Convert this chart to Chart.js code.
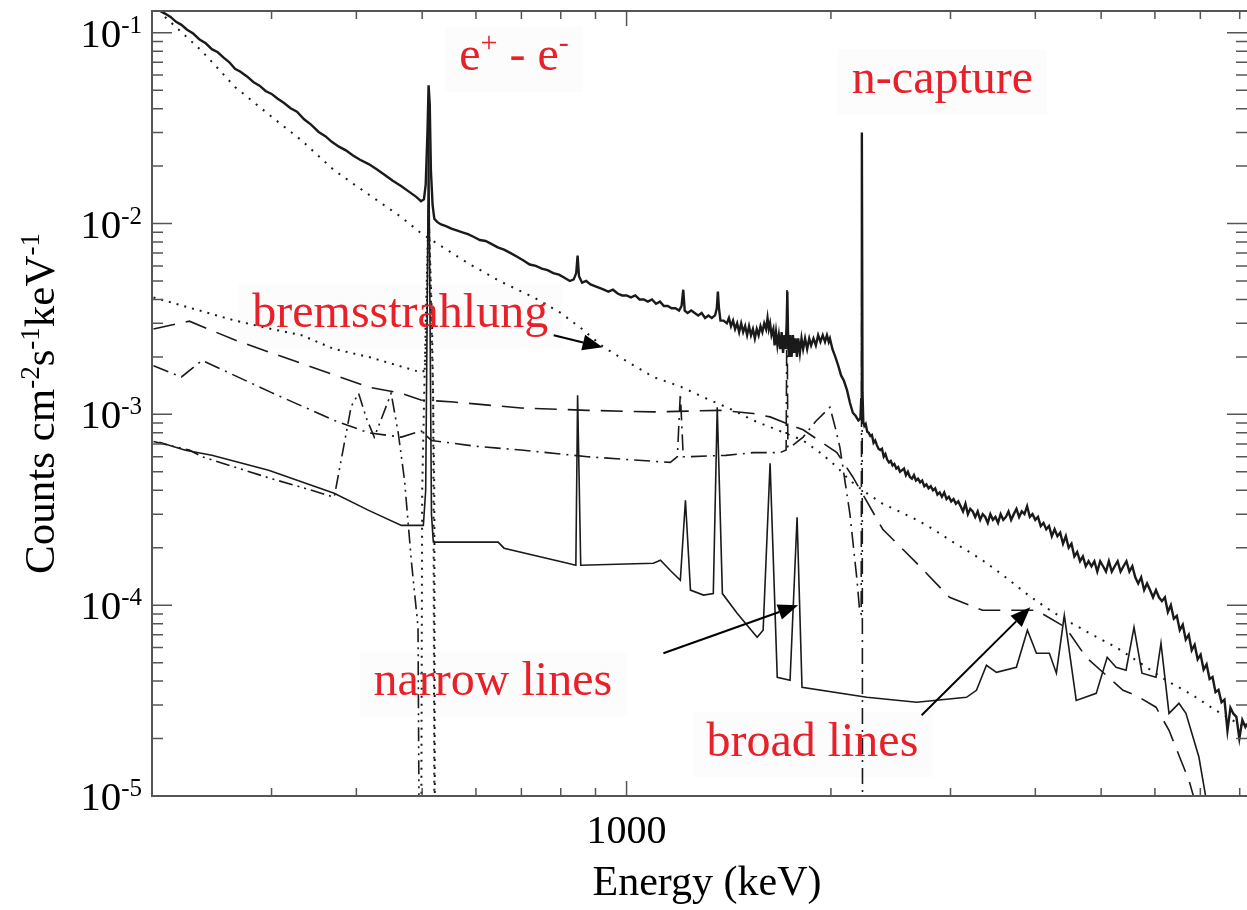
<!DOCTYPE html>
<html>
<head>
<meta charset="utf-8">
<script src="https://cdn.jsdelivr.net/npm/chart.js@4.4.1/dist/chart.umd.min.js"></script>
<style>
  html, body { margin: 0; padding: 0; background: #fff; }
  #wrap { width: 1247px; height: 910px; position: relative; }
</style>
</head>
<body>
<div id="wrap"><canvas id="spec"></canvas></div>
<script>
  // Measured total spectrum (thick noisy line)
  const totalEnergy = [205,209,213,217,221,225,230,235,240,245,250,255,260,265,270,276,282,288,294,300,306,313,320,327,335,343,352,360,368,377,386,395,405,417,428,440,452,466,478,490,498,503,506,509,511,513,515,518,521,526,533,542,552,562,573,584,596,608,620,633,646,660,675,690,705,720,735,750,765,780,795,810,825,836,843,847,851,860,872,885,898,912,926,940,955,970,985,1000,1015,1030,1045,1060,1075,1090,1105,1120,1135,1150,1165,1180,1195,1205,1212,1218,1230,1245,1260,1275,1290,1305,1320,1335,1350,1358,1363,1368,1375,1390,
    1405,1415,1425,1435,1445,1455,1465,1475,1485,1495,1505,1515,1525,1535,1545,1555,1565,1575,1585,1595,1605,1613,1620,1627,1635,1645,1652,1660,1668,1676,1684,1692,1700,1708,1715,1721,1725,1729,1735,1742,1750,1758,1766,1774,1782,1790,1800,1810,1820,1832,1845,1858,1870,1885,1900,1915,1930,1945,1960,1973,1985,1993,2010,2030,2050,2070,2090,2112,2133,2154,2175,2195,2210,2216,2221,2226,
    2232,2240,2250,2262,2274,2286,2298,2311,2324,2337,2350,2364,2378,2392,2406,2420,2435,2450,2465,2480,2496,2512,2528,2545,2562,2579,2596,2614,2632,2650,2668,2687,2706,2725,2745,2765,2785,2806,2827,2848,2870,2892,2914,2937,2960,2983,3007,3031,3055,3080,3105,3130,3156,3182,3208,3235,3262,3290,3318,3346,3375,3404,3434,3464,3494,3525,3556,3588,3620,3652,3685,3718,3752,3786,3820,3855,3890,3926,3962,3999,4036,4074,4112,4151,4190,4230,4270,4311,4352,4394,4436,4479,4522,4566,4610,4655,4700,4746,4792,4839,4887,4935,4984,5033,5083,5133,5184,5236,5288,5341,5394,5448,5503,5558,5614,5670,5727,5785,5843,5902,5962,6022,6083,6145,6207,6270,6334,6398,6463,6529,6595,6662,6730,6798,6867,6937,7007,7078,7150,7223,7296,7370,7445,7521,7597,7674,7752,7831,7910,7990,8071,8153,8200];
  const totalCounts = [.131,.126,.121,.114,.110,.104,.099,.092,.088,.082,.079,.074,.070,.0648,.0625,.0590,.0552,.0528,.0495,.0478,.0452,.0428,.0402,.0386,.0352,.0330,.0302,.0287,.0268,.0253,.0242,.0228,.0216,.0205,.0193,.0180,.0168,.0157,.0147,.0138,.0131,.0134,.0160,.0300,.0530,.0420,.0190,.0125,.0106,.0102,.0099,.0097,.0094,.0092,.0090,.0088,.0085,.0082,.0081,.0078,.0075,.0073,.0070,.0067,.0064,.0061,.0060,.0058,.0057,.0055,.0054,.0052,.0050,.0051,.0055,.0068,.0053,.0049,.0050,.0048,.0047,.0046,.0045,.0044,.0045,.0043,.0042,.0042,.0041,.0042,.0040,.0040,.0039,.0040,.0038,.0039,.0037,.0037,.0036,.0036,.0035,.0037,.0045,.0035,.0034,.0035,.0034,.0033,.0034,.0032,.0033,.0032,.0033,.0036,.0044,.0036,.0031,.0031,
    .0030,.0032,.0029,.0031,.0028,.0030,.0027,.0030,.0027,.0029,.0026,.0029,.0026,.0028,.0025,.0028,.0026,.0029,.0027,.0030,.0028,.0032,.0028,.0030,.0026,.0028,.0023,.0027,.0023,.0026,.0022,.0027,.0021,.0026,.0022,.0030,.0044,.0027,.0020,.0026,.0020,.0026,.0021,.0025,.0020,.0025,.0021,.0025,.0022,.0025,.0022,.0025,.0023,.0025,.0023,.0026,.0024,.0026,.0024,.0026,.0024,.0025,.0022,.0020,.0018,.0016,.0015,.00134,.00115,.00102,.00098,.00093,.00095,.0012,.030,.0013,
    .00091,.00087,.00089,.00081,.00080,.00077,.00078,.00071,.00073,.00069,.00066,.00065,.00066,.00060,.00062,.00058,.00056,.00057,.00054,.00055,.00052,.00053,.00050,.00051,.00052,.00048,.00050,.00047,.00046,.00048,.00045,.00046,.00044,.00045,.00042,.00043,.00041,.00042,.00040,.00041,.00038,.00039,.00037,.00039,.00036,.00037,.00035,.00036,.00034,.00035,.00033,.00031,.00034,.00030,.00032,.00031,.00029,.00031,.00028,.00030,.00029,.00027,.00030,.00028,.00029,.00027,.00030,.00028,.00029,.00031,.00028,.00030,.00032,.00029,.00031,.00030,.00033,.00029,.00030,.00028,.00029,.00026,.00027,.00025,.00026,.00023,.00025,.00023,.00024,.00021,.00023,.00020,.00021,.00018,.00019,.00017,.00018,.00016,.00017,.00016,.00017,.00015,.00017,.00016,.00015,.00017,.00015,.00016,.00017,.00015,.00016,.00017,.00015,.00016,.00014,.00013,.00014,.00012,.00013,.00012,.00011,.00012,.00011,.000105,.00011,.000092,.0001,.000085,.000088,.000074,.000079,.000066,.00007,.000058,.000062,.000052,.000055,.000046,.000049,.000041,.000042,.000035,.000036,.000031,.000032,.000022,.000029,.000027,.000026,.000020,.000025,.000023,.000024];

  // Bremsstrahlung continuum (dotted)
  const bremEnergy = [209,237,265,298,332,371,417,466,498,540,584,650,730,800,860,925,1000,1095,1200,1298,1420,1537,1680,1820,1940,2041,2133,2250,2384,2520,2675,2830,2990,3160,3344,3600,3880,4150,4443,4850,5260,5700,6230,6800,7377,8200];
  const bremCounts = [.121,.080,.052,.037,.0273,.019,.0142,.0108,.0089,.0074,.0062,.0050,.0041,.0034,.0028,.00225,.0019,.00157,.0014,.00123,.00107,.00093,.00082,.00073,.00062,.00053,.00045,.00039,.00034,.00031,.00028,.00025,.00022,.000195,.000172,.000142,.000115,.000097,.0000834,.000070,.0000602,.000050,.0000404,.000034,.0000281,.0000225];

  // Positronium continuum up to 511 keV (dotted)
  const posEnergy = [201,235,265,300,332,371,417,466,498,505,508,511,515,519,523];
  const posCounts = [.0041,.0035,.0031,.0028,.0026,.0022,.0020,.00178,.00166,.0017,.0035,.0125,.004,.0012,1e-7];

  // 511 keV annihilation line (dotted)
  const annEnergy = [497,500,506,511,517,521,523];
  const annCounts = [1e-7,.0004,.003,.012,.003,.0004,1e-7];

  // Dashed component
  const dashEnergy = [201,227,265,332,417,466,498,557,699,876,1095,1374,1537,1627,1820,2041,2154,2384,2675,2990,3344,3751,4015,4430,4753,5386,5628,6022,6294,6553,6734,6895,7100];
  const dashCounts = [.0028,.00308,.00245,.00185,.00139,.00129,.00119,.00116,.00108,.00105,.00103,.00105,.00101,.00097,.00083,.00063,.00047,.00025,.000166,.00011,.000094,.000094,.000094,.0000766,.0000533,.0000358,.0000337,.0000292,.0000221,.0000154,.0000121,.0000090,.000004];

  // Dash-dot component (with 1200, 1723 and 2223 keV lines)
  const dashDotEnergy = [201,221,237,300,371,417,466,498,516,600,699,876,1000,1160,1188,1200,1212,1229,1400,1537,1683,1718,1723,1728,1741,1820,1900,1993,2030,2062,2133,2184,2206,2216,2222,2228];
  const dashDotCounts = [.0018,.00157,.00192,.0013,.00093,.0008,.00076,.00082,.00073,.00068,.00065,.0006,.00058,.00056,.0006,.00129,.0006,.0006,.00061,.00063,.00063,.00065,.0045,.00067,.00067,.00076,.00092,.00109,.00085,.00067,.0003,.000137,.000091,.00009,.03,1e-7];

  // Dash-dot-dot component below 511 keV
  const dash3Energy = [201,227,237,300,332,371,380,393,403,414,425,437,450,461,471,482,493,498];
  const dash3Counts = [.00072,.00065,.0006,.00046,.000415,.000368,.00058,.0011,.00129,.00095,.00076,.00098,.00129,.0008,.00045,.00017,.000077,1e-7];

  // Narrow + broad lines component (thin solid)
  const linesEnergy = [205,224,245,297,371,417,466,502,506,509,511,513,516,519,521,647,660,819,842,847,856,1095,1122,1160,1200,1221,1242,1298,1342,1360,1384,1455,1557,1589,1627,1667,1741,1783,1813,2259,2675,3167,3276,3389,3506,3751,3894,4015,4195,4296,4413,4595,4917,5104,5260,5441,5590,5743,6022,6125,6294,6510,6666,6966,7133,7250];
  const linesCounts = [.000714,.000648,.00061,.000509,.000386,.000314,.000262,.000262,.0004,.005,.035,.005,.0003,.000219,.000214,.000214,.000199,.000166,.000162,.00126,.000162,.000166,.000172,.000152,.000135,.000355,.00012,.000113,.000115,.00109,.000115,.0000907,.0000679,.0000739,.000554,.0000419,.0000404,.000289,.0000371,.0000329,.000031,.0000329,.0000358,.0000484,.0000445,.0000473,.0000739,.000056,.000056,.000044,.0000885,.0000317,.0000345,.0000533,.0000473,.0000456,.0000766,.000044,.0000419,.0000632,.0000271,.0000306,.0000271,.000016,.0000098,1e-7];

  // Axis ticks
  const yMajorTicks = [1e-1, 1e-2, 1e-3, 1e-4, 1e-5];
  const yTickExps = ['-1', '-2', '-3', '-4', '-5'];
  const yMinorFactors = [2, 3, 4, 5, 6, 7, 8, 9];
  const xMajorTicks = [1000];
  const xTickLabels = ['1000'];
  const xMinorTicks = [300, 400, 500, 600, 700, 800, 900, 2000, 3000, 4000, 5000, 6000, 7000, 8000];

  // Annotations (data coordinates)
  const notes = [
    { parts: [['e', 0], ['+', 1], [' - e', 0], ['-', 1]], x: 567, y: 0.0636 },
    { parts: [['n-capture', 0]], x: 2147, y: 0.0482 },
    { parts: [['bremsstrahlung', 0]], x: 281, y: 0.00286 },
    { parts: [['narrow lines', 0]], x: 424, y: 0.0000337 },
    { parts: [['broad lines', 0]], x: 1311, y: 0.0000163 }
  ];
  const arrows = [
    { from: [781, 0.0026], to: [922, 0.00225] },
    { from: [1133, 0.000056], to: [1789, 0.0000999] },
    { from: [2720, 0.0000265], to: [3933, 0.0000975] }
  ];

  const FONT = '"Liberation Serif", "Times New Roman", serif';
  const INK = '#1a1a1a';

  function pts(xs, ys) {
    return xs.map((x, i) => ({ x: x, y: ys[i] }));
  }

  function series(xs, ys, width, dash) {
    return {
      data: pts(xs, ys),
      showLine: true,
      borderColor: INK,
      borderWidth: width,
      borderDash: dash,
      pointRadius: 0,
      tension: 0
    };
  }

  // draw text made of normal / superscript parts starting at (x, y) baseline
  function drawParts(ctx, parts, x, y, size, supSize, raise) {
    let cx = x;
    parts.forEach(([t, sup]) => {
      ctx.font = (sup ? supSize : size) + 'px ' + FONT;
      ctx.fillText(t, cx, sup ? y - raise : y);
      cx += ctx.measureText(t).width;
    });
    return cx - x;
  }

  function partsWidth(ctx, parts, size, supSize) {
    let w = 0;
    parts.forEach(([t, sup]) => {
      ctx.font = (sup ? supSize : size) + 'px ' + FONT;
      w += ctx.measureText(t).width;
    });
    return w;
  }

  const axesPlugin = {
    id: 'axesPlugin',
    afterDatasetsDraw(chart) {
      const { ctx, chartArea: a, scales: { x, y } } = chart;
      ctx.save();

      // frame
      ctx.strokeStyle = '#555';
      ctx.lineWidth = 2;
      ctx.beginPath();
      ctx.moveTo(a.right, a.top);
      ctx.lineTo(a.left, a.top);
      ctx.lineTo(a.left, a.bottom);
      ctx.lineTo(a.right, a.bottom);
      ctx.stroke();

      // ticks (inward, on all sides)
      ctx.lineWidth = 1.5;
      ctx.beginPath();
      xMajorTicks.forEach(v => {
        const px = x.getPixelForValue(v);
        ctx.moveTo(px, a.bottom); ctx.lineTo(px, a.bottom - 15);
        ctx.moveTo(px, a.top); ctx.lineTo(px, a.top + 15);
      });
      xMinorTicks.forEach(v => {
        const px = x.getPixelForValue(v);
        ctx.moveTo(px, a.bottom); ctx.lineTo(px, a.bottom - 8);
        ctx.moveTo(px, a.top); ctx.lineTo(px, a.top + 8);
      });
      yMajorTicks.forEach(v => {
        const py = y.getPixelForValue(v);
        ctx.moveTo(a.left, py); ctx.lineTo(a.left + 20, py);
        ctx.moveTo(a.right, py); ctx.lineTo(a.right - 20, py);
        yMinorFactors.forEach(f => {
          const val = v * f;
          if (val > y.max) return;
          const pm = y.getPixelForValue(val);
          ctx.moveTo(a.left, pm); ctx.lineTo(a.left + 11, pm);
          ctx.moveTo(a.right, pm); ctx.lineTo(a.right - 11, pm);
        });
      });
      ctx.stroke();

      // tick labels
      ctx.fillStyle = '#000';
      ctx.textBaseline = 'alphabetic';
      ctx.textAlign = 'left';
      yMajorTicks.forEach((v, i) => {
        const py = y.getPixelForValue(v);
        const parts = [['10', 0], [yTickExps[i], 1]];
        const w = partsWidth(ctx, parts, 41, 25);
        drawParts(ctx, parts, 142 - w, py + 14, 41, 25, 14);
      });
      xMajorTicks.forEach((v, i) => {
        const px = x.getPixelForValue(v);
        ctx.font = '40px ' + FONT;
        ctx.textAlign = 'center';
        ctx.fillText(xTickLabels[i], px, 843);
      });

      // axis titles
      ctx.textAlign = 'left';
      ctx.font = '42px ' + FONT;
      const xt = 'Energy (keV)';
      ctx.fillText(xt, 707 - ctx.measureText(xt).width / 2, 895);

      const yt = [['Counts cm', 0], ['-2', 1], ['s', 0], ['-1', 1], ['keV', 0], ['-1', 1]];
      const ytw = partsWidth(ctx, yt, 43, 27);
      ctx.save();
      ctx.translate(54, (a.top + a.bottom) / 2);
      ctx.rotate(-Math.PI / 2);
      drawParts(ctx, yt, -ytw / 2, 0, 43, 27, 15);
      ctx.restore();

      // red annotation labels
      notes.forEach(n => {
        const px = x.getPixelForValue(n.x);
        const py = y.getPixelForValue(n.y);
        const w = partsWidth(ctx, n.parts, 48, 30);
        ctx.fillStyle = 'rgba(0,0,0,0.012)';
        ctx.fillRect(px - 14, py - 44, w + 28, 66);
        ctx.fillStyle = '#e8202a';
        drawParts(ctx, n.parts, px, py, 48, 30, 18);
      });

      // arrows
      ctx.strokeStyle = '#000';
      ctx.fillStyle = '#000';
      ctx.lineWidth = 2;
      arrows.forEach(ar => {
        const x0 = x.getPixelForValue(ar.from[0]), y0 = y.getPixelForValue(ar.from[1]);
        const x1 = x.getPixelForValue(ar.to[0]), y1 = y.getPixelForValue(ar.to[1]);
        const ang = Math.atan2(y1 - y0, x1 - x0);
        const hl = 20, hw = 8;
        const bx = x1 - hl * Math.cos(ang), by = y1 - hl * Math.sin(ang);
        ctx.beginPath();
        ctx.moveTo(x0, y0); ctx.lineTo(bx, by);
        ctx.stroke();
        ctx.beginPath();
        ctx.moveTo(x1, y1);
        ctx.lineTo(bx + hw * Math.sin(ang), by - hw * Math.cos(ang));
        ctx.lineTo(bx - hw * Math.sin(ang), by + hw * Math.cos(ang));
        ctx.closePath();
        ctx.fill();
      });

      ctx.restore();
    }
  };

  const ctx = document.getElementById('spec').getContext('2d');
  new Chart(ctx, {
    type: 'scatter',
    data: {
      datasets: [
        series(linesEnergy, linesCounts, 1.6, []),
        series(dash3Energy, dash3Counts, 1.6, [14, 5, 2, 5, 2, 5]),
        series(dashDotEnergy, dashDotCounts, 1.6, [16, 6, 2, 6]),
        series(dashEnergy, dashCounts, 1.6, [22, 11]),
        series(posEnergy, posCounts, 2, [2, 6]),
        series(annEnergy, annCounts, 2, [2, 6]),
        series(bremEnergy, bremCounts, 2, [2, 7]),
        series(totalEnergy, totalCounts, 2.4, [])
      ]
    },
    options: {
      responsive: true,
      maintainAspectRatio: false,
      animation: false,
      layout: { padding: { left: 152, right: 0, top: 11, bottom: 114 } },
      plugins: { legend: { display: false }, tooltip: { enabled: false } },
      scales: {
        x: { type: 'logarithmic', min: 200, max: 8200, display: false },
        y: { type: 'logarithmic', min: 1e-5, max: 0.13, display: false }
      }
    },
    plugins: [axesPlugin]
  });
</script>
</body>
</html>
